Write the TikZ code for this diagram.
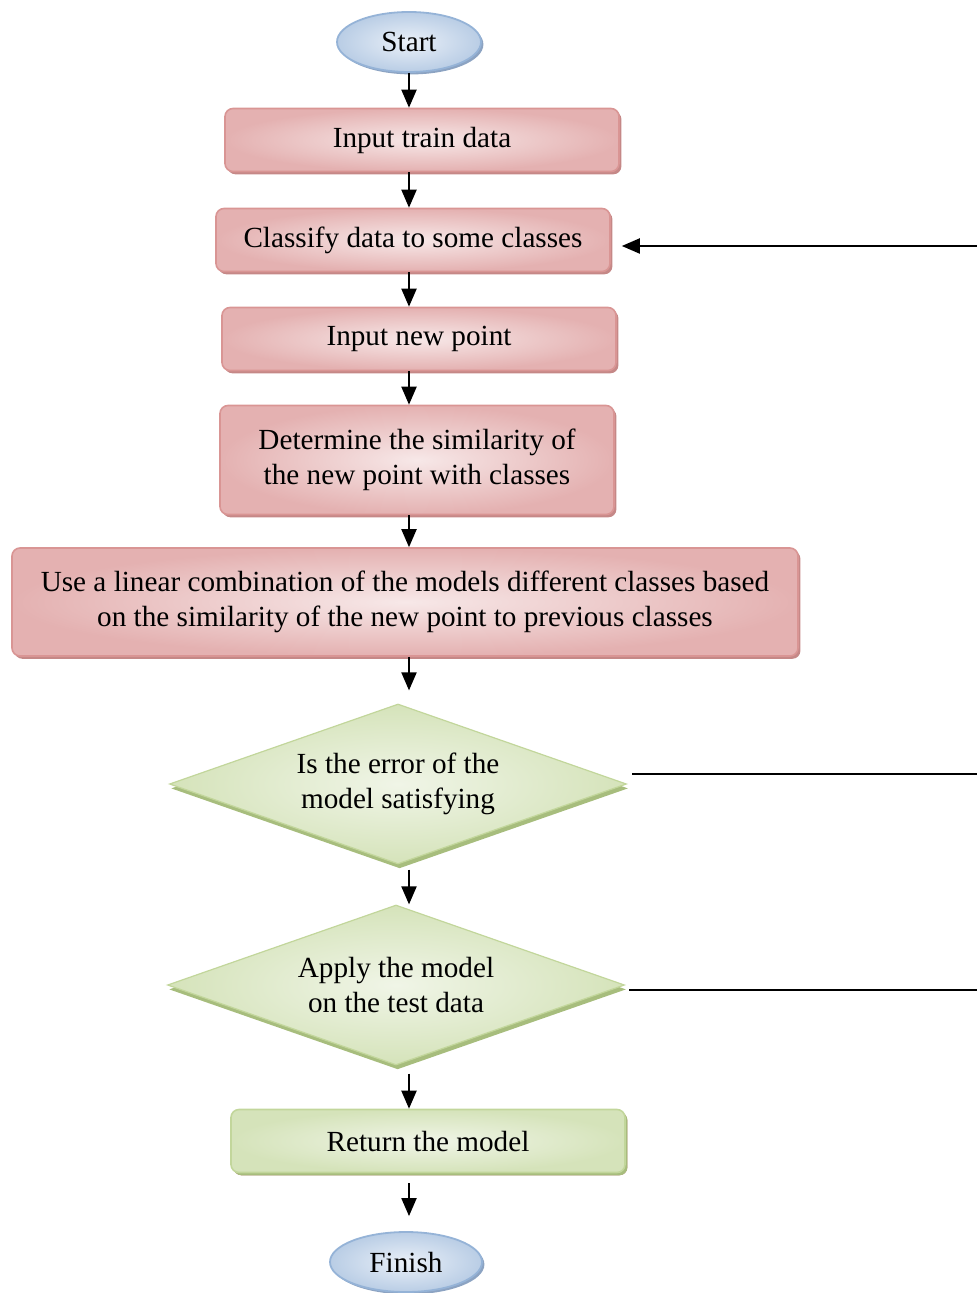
\documentclass[tikz,border=0pt]{standalone}
\usepackage{fontspec}
\setmainfont{Liberation Serif}
\usetikzlibrary{shapes.geometric,arrows.meta,shadows}
\definecolor{pinkline}{HTML}{D99594}
\definecolor{pinkdark}{HTML}{E4B1B1}
\definecolor{pinklight}{HTML}{F7E8E8}
\definecolor{pinkshade}{HTML}{C58887}
\definecolor{greenline}{HTML}{C2D69B}
\definecolor{greendark}{HTML}{D5E3BA}
\definecolor{greenlight}{HTML}{F0F5E7}
\definecolor{greenshade}{HTML}{A7BD7D}
\definecolor{blueline}{HTML}{95B3D7}
\definecolor{bluedark}{HTML}{B9CDE5}
\definecolor{bluelight}{HTML}{EAF0F8}
\definecolor{blueshade}{HTML}{8CA3C2}
\tikzset{
	x=0.5pt, y=-0.5pt,
	every node/.style={font=\fontsize{14.6}{17.5}\selectfont, align=center},
	arr/.style={-{Triangle[length=9pt,width=7.5pt]}, line width=1pt},
	back/.style={line width=0.9pt},
	term/.style={ellipse, draw=blueline, line width=0.9pt, inner color=bluelight, outer color=bluedark,
		minimum width=72pt, minimum height=30pt, inner sep=0pt,
		drop shadow={shadow xshift=1.2pt, shadow yshift=-1.2pt, fill=blueshade, opacity=1}},
	proc/.style={rectangle, rounded corners=4pt, draw=pinkline, line width=0.8pt, inner color=pinklight, outer color=pinkdark,
		minimum width=197pt, minimum height=31.5pt, inner sep=2pt,
		drop shadow={shadow xshift=1.2pt, shadow yshift=-1.4pt, fill=pinkshade, opacity=1}},
	done/.style={proc, draw=greenline, inner color=greenlight, outer color=greendark,
		drop shadow={shadow xshift=1.2pt, shadow yshift=-1.4pt, fill=greenshade, opacity=1}},
	test/.style={diamond, draw=greenline, line width=0.6pt, inner color=greenlight, outer color=greendark,
		shape aspect=2.82, minimum width=228.5pt, minimum height=80pt, inner sep=0pt,
		drop shadow={shadow xshift=0.8pt, shadow yshift=-2.2pt, fill=greenshade, opacity=1}}
}
\begin{document}
\begin{tikzpicture}
	\useasboundingbox (0,0) rectangle (977,1293);

	\node[term] (start) at (409,42) {Start};
	\node[proc] (train) at (422,140) {Input train data};
	\node[proc] (classify) at (413,240) {Classify data to some classes};
	\node[proc] (newpt) at (419,339) {Input new point};
	\node[proc, minimum height=54.5pt] (simil) at (417,460) {Determine the similarity of\\the new point with classes};
	\node[proc, minimum width=393pt, minimum height=54pt] (combo) at (405,602) {Use a linear combination of the models different classes based\\on the similarity of the new point to previous classes};
	\node[test] (err) at (398,784) {Is the error of the\\model satisfying};
	\node[test] (apply) at (396,985) {Apply the model\\on the test data};
	\node[done] (ret) at (428,1141) {Return the model};
	\node[term, minimum width=76pt] (finish) at (406,1262) {Finish};

	\coordinate (loopin) at (977,246);
	\coordinate (loopa) at (977,774);
	\coordinate (loopb) at (977,990);

	\draw[arr] (start) -- (start |- train.north);
	\draw[arr] (train.south -| start) -- (classify.north -| start);
	\draw[arr] (classify.south -| start) -- (newpt.north -| start);
	\draw[arr] (newpt.south -| start) -- (simil.north -| start);
	\draw[arr] (simil.south -| start) -- (combo.north -| start);
	\draw[arr, shorten >=6.5pt] (combo.south -| start) -- (err.north -| start);
	\draw[arr, shorten <=2.5pt] (err.south -| start) -- (apply.north -| start);
	\draw[arr, shorten <=4pt] (apply.south -| start) -- (ret.north -| start);
	\draw[arr, shorten <=5pt, shorten >=7.5pt] (ret.south -| start) -- (finish.north -| start);

	% loop back to the classes
	\draw[back, shorten <=2.5pt] (loopa -| err.east) -- (loopa);
	\draw[back, shorten <=2pt] (loopb -| apply.east) -- (loopb);
	\draw[arr, shorten >=5.5pt] (loopin) -- (loopin -| classify.east);
\end{tikzpicture}
\end{document}
